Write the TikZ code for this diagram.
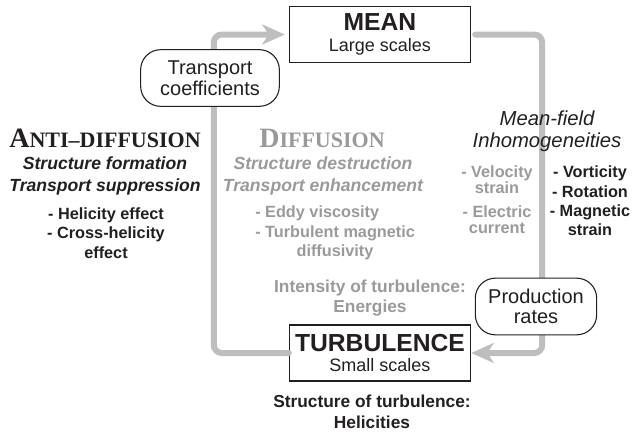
\documentclass[tikz,border=0pt]{standalone}
\usepackage{fontspec}
\setmainfont{Liberation Sans}
\newfontfamily\capsfont{Liberation Serif}
\usetikzlibrary{arrows.meta,positioning}
\definecolor{loopgray}{HTML}{BDBEC0}
\definecolor{softgray}{HTML}{9A9A9C}
\definecolor{ink}{HTML}{231F20}
% fake small caps: big first letter, smaller rest
\newcommand{\capsword}[2]{{\capsfont\bfseries\fontsize{21}{21}\selectfont #1\fontsize{16.5}{16.5}\selectfont #2}}
\tikzset{
  scalebox/.style={draw=ink,thick,fill=white,minimum width=136pt,minimum height=42pt,
    align=center,inner sep=1pt,text=ink,font=\fontsize{13.5}{15.5}\selectfont},
  ratebox/.style={draw=ink,thick,fill=white,rounded corners=15pt,minimum height=42.5pt,
    align=center,inner sep=2pt,text=ink,font=\fontsize{15}{15.5}\selectfont},
  cycle/.style={loopgray,line width=4.5pt,rounded corners=6pt,line cap=round},
  cyclehead/.style={-{Stealth[length=17pt,width=15pt,inset=5pt]}},
  lbl/.style={align=center,inner sep=0pt}
}
\begin{document}
\begin{tikzpicture}[x=0.75pt,y=-0.75pt]
  \useasboundingbox (0,0) rectangle (633,433);

  % Scale boxes
  \node[scalebox] (mean) at (380,34.5)
    {{\fontsize{18.5}{15.5}\selectfont\bfseries MEAN}\\Large scales};
  \node[scalebox] (turb) at (380,353)
    {{\fontsize{18.5}{15.5}\selectfont\bfseries TURBULENCE}\\Small scales};

  % Cycle between the scales
  \draw[cycle,cyclehead,shorten >=3pt] (turb.west) -- ++(-75,0) |- (mean.west);
  \draw[cycle,cyclehead,shorten <=3pt] (mean.east) -- ++(71,0) |- (turb.east);

  \node[ratebox,minimum width=104pt] (coef) at (210,78) {Transport\\coefficients};
  \node[ratebox,minimum width=91pt] (prod) at (536,306.5) {Production\\rates};

  % Left column: anti-diffusion
  \node[lbl,text=ink] (anti) at (105,138) {\capsword{A}{NTI–DIFFUSION}};
  \node[lbl,text=ink,font=\fontsize{13.2}{16.5}\selectfont\bfseries\itshape] (antisub) at (105,176)
    {Structure formation\\Transport suppression};
  \node[lbl,text=ink,font=\fontsize{12.2}{14.5}\selectfont\bfseries] (antilist) at (106,233)
    {- Helicity effect\\- Cross-helicity\\effect};

  % Middle column: diffusion
  \node[lbl,text=softgray] (diff) at (322,138) {\capsword{D}{IFFUSION}};
  \node[lbl,text=softgray,font=\fontsize{13.2}{16.5}\selectfont\bfseries\itshape] (diffsub) at (323,176)
    {Structure destruction\\Transport enhancement};
  \node[lbl,text=softgray,font=\fontsize{12.2}{14.5}\selectfont\bfseries,align=left,anchor=west] (difflist) at (255,233)
    {- Eddy viscosity\\- Turbulent magnetic\\\hspace*{31pt}diffusivity};

  \node[lbl,text=softgray,font=\fontsize{13}{15}\selectfont\bfseries] (intens) at (370,298)
    {Intensity of turbulence:\\Energies};
  \node[lbl,text=ink,font=\fontsize{13}{15.5}\selectfont\bfseries] (helic) at (372,412)
    {Structure of turbulence:\\Helicities};

  % Right column: inhomogeneities
  \node[lbl,text=ink,font=\fontsize{15.2}{16.5}\selectfont\itshape] (inhom) at (547,131)
    {Mean-field\\Inhomogeneities};
  \node[lbl,text=softgray,font=\fontsize{12.2}{12}\selectfont\bfseries] (gradlist) at (497,200)
    {- Velocity\\strain\\[6pt]- Electric\\current};
  \node[lbl,text=ink,font=\fontsize{12.2}{14.5}\selectfont\bfseries] (rotlist) at (590,201)
    {- Vorticity\\- Rotation\\- Magnetic\\strain};
\end{tikzpicture}
\end{document}
